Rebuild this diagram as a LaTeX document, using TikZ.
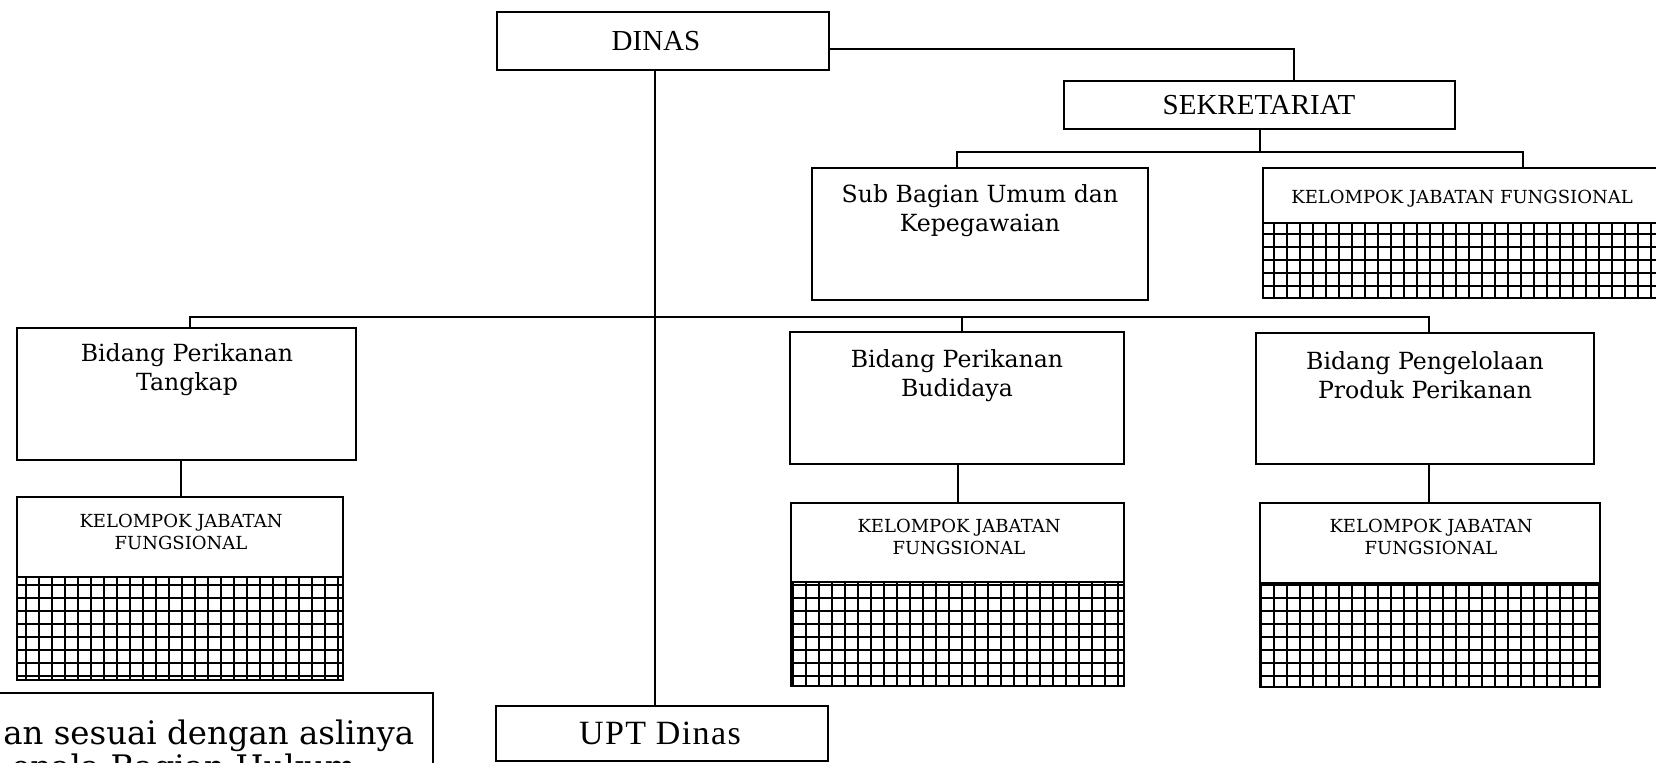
\documentclass[tikz,border=0pt]{standalone}
\usepackage{fontspec}
\setmainfont{Liberation Serif}
\newfontfamily\bkfont{DejaVu Serif}
\newfontfamily\uptfont[LetterSpace=4]{Liberation Serif}
\usetikzlibrary{fit}
\begin{document}
\begin{tikzpicture}[x=0.5pt,y=-0.5pt,
  box/.style={draw=black, line width=1.2pt, inner sep=0pt},
  conn/.style={draw=black, line width=1pt},
  gridl/.style={draw=black, line width=0.85pt, step=6.5pt},
  bigtxt/.style={font=\fontsize{14.5}{17}\selectfont, inner sep=0pt},
  midtxt/.style={font=\bkfont\fontsize{11.8}{14.5}\selectfont, align=center, inner sep=0pt, anchor=north},
  kjftxt/.style={font=\bkfont\fontsize{9}{11}\selectfont, align=center, inner sep=0pt, anchor=north},
  bottxt/.style={font=\bkfont\fontsize{16.2}{19}\selectfont, inner sep=0pt, anchor=base west},
]
\useasboundingbox (0,0) rectangle (1656,763);

% --- top level ---
\node[box, fit={(497,12) (829,70)}] (dinas) {};
\node[bigtxt] (dinasT) at (656,41) {DINAS};

\node[box, fit={(1064,81) (1455,129)}] (sekre) {};
\node[bigtxt] (sekreT) at (1259,105) {SEKRETARIAT};

\node[box, fit={(812,168) (1148,300)}] (subbag) {};
\node[midtxt] (subbagT) at (980,184) {Sub Bagian Umum dan\\Kepegawaian};

\node[box, fit={(1263,168) (1666,298)}] (kjfT) {};
\draw[gridl] (1263,223) grid (1666,298);
\draw[box] (1263,223) -- (1666,223);
\node[kjftxt, anchor=center] (kjfTT) at (1462,199) {KELOMPOK JABATAN FUNGSIONAL};

% --- bidang ---
\node[box, fit={(17,328) (356,460)}] (tangkap) {};
\node[midtxt] (tangkapT) at (187,343) {Bidang Perikanan\\Tangkap};

\node[box, fit={(790,332) (1124,464)}] (budi) {};
\node[midtxt] (budiT) at (957,349) {Bidang Perikanan\\Budidaya};

\node[box, fit={(1256,333) (1594,464)}] (pengel) {};
\node[midtxt] (pengelT) at (1425,351) {Bidang Pengelolaan\\Produk Perikanan};

% --- kelompok jabatan fungsional ---
\node[box, fit={(17,497) (343,680)}] (kjfL) {};
\draw[gridl] (17,577) grid (343,680);
\draw[box] (17,577) -- (343,577);
\node[kjftxt] (kjfLT) at (181,514) {KELOMPOK JABATAN\\FUNGSIONAL};

\node[box, fit={(791,503) (1124,686)}] (kjfM) {};
\draw[gridl] (791,582) grid (1124,686);
\draw[box] (791,582) -- (1124,582);
\node[kjftxt] (kjfMT) at (959,519) {KELOMPOK JABATAN\\FUNGSIONAL};

\node[box, fit={(1260,503) (1600,687)}] (kjfR) {};
\draw[gridl] (1260,583) grid (1600,687);
\draw[box] (1260,583) -- (1600,583);
\node[kjftxt] (kjfRT) at (1431,519) {KELOMPOK JABATAN\\FUNGSIONAL};

% --- UPT ---
\node[box, fit={(496,706) (828,761)}] (upt) {};
\node[font=\uptfont\fontsize{17}{20}\selectfont, inner sep=0pt, anchor=base] (uptT) at (660,745) {UPT Dinas};

% --- bottom-left certification box (cut off) ---
\draw[box] (0,693) -| (433,763);
\node[bottxt] (sal1) at (3,745) {an sesuai dengan aslinya};
\node[bottxt] (sal2) at (11,779) {epala Bagian Hukum};

% --- connectors ---
\coordinate (dE) at ([yshift=-4pt]dinas.east);
\coordinate (sN) at ([xshift=17pt]sekre.north);
\draw[conn] (dE) -| (sN);

\coordinate (sjL) at (957,152);
\coordinate (sjR) at (1523,152);
\draw[conn] (sekre.south) -- (sekre.south |- sjL);
\draw[conn] (subbag.north -| sjL) -- (sjL) -- (sjR) -- (kjfT.north -| sjR);

\coordinate (dv) at (655,0);
\draw[conn] (dinas.south -| dv) -- (upt.north -| dv);

\coordinate (mL) at (190,317);
\coordinate (mB) at (962,317);
\coordinate (mR) at (1429,317);
\draw[conn] (tangkap.north -| mL) -- (mL) -- (mR) -- (pengel.north -| mR);
\draw[conn] (mB) -- (budi.north -| mB);

\coordinate (cL) at (181,0);
\coordinate (cM) at (958,0);
\coordinate (cR) at (1429,0);
\draw[conn] (tangkap.south -| cL) -- (kjfL.north -| cL);
\draw[conn] (budi.south -| cM) -- (kjfM.north -| cM);
\draw[conn] (pengel.south -| cR) -- (kjfR.north -| cR);
\end{tikzpicture}
\end{document}
